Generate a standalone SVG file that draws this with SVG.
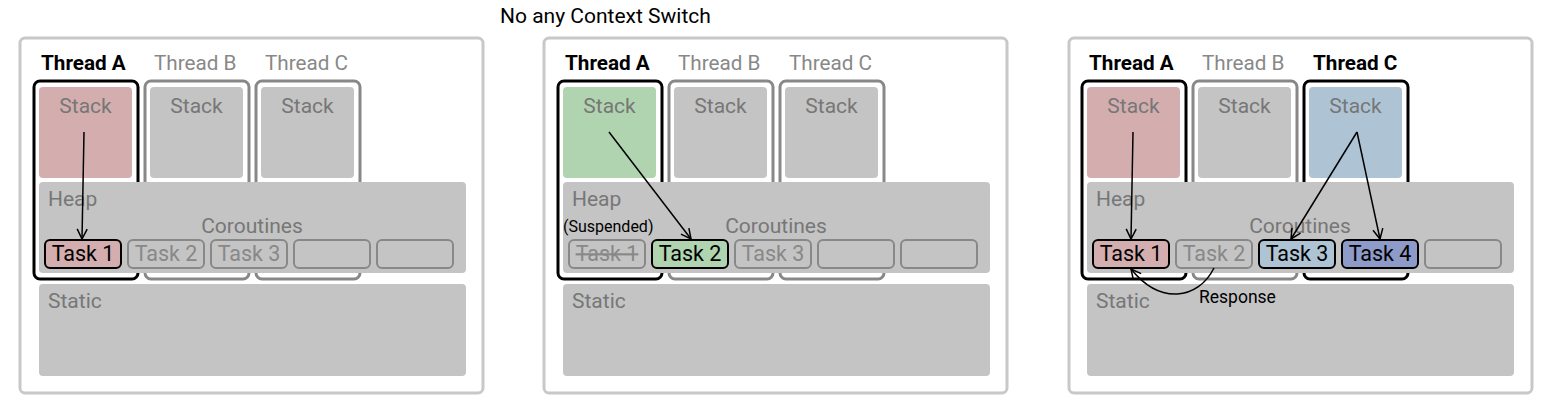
<svg xmlns="http://www.w3.org/2000/svg" width="1558" height="420" viewBox="0 0 1558 420">
<defs>
<marker id="ah" viewBox="0 0 12 12" refX="11" refY="6" markerWidth="12" markerHeight="12" markerUnits="userSpaceOnUse" orient="auto">
<path d="M1,1 L11,6 L1,11" fill="none" stroke="#000" stroke-width="1.5"/>
</marker>
<style>
text{font-family:Roboto,"Liberation Sans",sans-serif;}
.panel{fill:#fff;stroke:#c8c8c8;stroke-width:3;}
.frA{fill:none;stroke:#000;stroke-width:3;}
.frI{fill:none;stroke:#888;stroke-width:3;}
.stk{fill:#c4c4c4;}
.pink{fill:#d4aeae;}
.green{fill:#b0d4b0;}
.blue{fill:#aec4d4;}
.dblue{fill:#8e9ac8;}
.mem{fill:#c4c4c4;}
.lbl{font-size:21px;fill:#777;}
.thA{font-size:20.7px;font-weight:bold;fill:#000;}
.thI{font-size:20.7px;fill:#888;}
.tk{fill:none;stroke:#888;stroke-width:2;}
.tkA{stroke:#000;stroke-width:2;}
.tkt{font-size:21.5px;fill:#888;text-anchor:middle;}
.tktA{font-size:21.5px;fill:#000;text-anchor:middle;}
.edge{fill:none;stroke:#000;stroke-width:1.5;marker-end:url(#ah);}
</style>
</defs>
<text x="500" y="23" style="font-size:21px;fill:#000;">No any Context Switch</text>

<!-- Panel 1 -->
<g id="panel1">
<rect class="panel" x="20" y="38" width="463" height="355" rx="5"/>
<g id="p1-threadA"><rect class="frA" x="34" y="81" width="104" height="198" rx="6"/><rect class="pink" x="39" y="87" width="93" height="91" rx="4"/><text class="lbl" x="85.5" y="113" text-anchor="middle">Stack</text><text class="thA" x="41" y="70">Thread A</text></g>
<g id="p1-threadB"><rect class="frI" x="145" y="81" width="104" height="198" rx="6"/><rect class="stk" x="150" y="87" width="93" height="91" rx="4"/><text class="lbl" x="196.5" y="113" text-anchor="middle">Stack</text><text class="thI" x="154" y="70">Thread B</text></g>
<g id="p1-threadC"><rect class="frI" x="256" y="81" width="104" height="198" rx="6"/><rect class="stk" x="261" y="87" width="93" height="91" rx="4"/><text class="lbl" x="307.5" y="113" text-anchor="middle">Stack</text><text class="thI" x="265" y="70">Thread C</text></g>
<g id="p1-heap"><rect class="mem" x="39" y="182" width="427" height="91" rx="4"/><text class="lbl" x="48" y="206">Heap</text><text class="lbl" x="252" y="233" text-anchor="middle">Coroutines</text></g>
<g id="p1-static"><rect class="mem" x="39" y="284" width="427" height="92" rx="4"/><text class="lbl" x="48" y="308">Static</text></g>
<g id="p1-task1"><rect class="pink tkA" x="45" y="240" width="76" height="28" rx="5"/><text class="tktA" x="83" y="261">Task 1</text></g>
<g id="p1-task2"><rect class="tk" x="128" y="240" width="76" height="28" rx="5"/><text class="tkt" x="166" y="261">Task 2</text></g>
<g id="p1-task3"><rect class="tk" x="211" y="240" width="76" height="28" rx="5"/><text class="tkt" x="249" y="261">Task 3</text></g>
<g id="p1-task4"><rect class="tk" x="294" y="240" width="76" height="28" rx="5"/></g>
<g id="p1-task5"><rect class="tk" x="377" y="240" width="76" height="28" rx="5"/></g>
</g>

<!-- Panel 2 -->
<g id="panel2">
<rect class="panel" x="544" y="38" width="463" height="355" rx="5"/>
<g id="p2-threadA"><rect class="frA" x="558" y="81" width="104" height="198" rx="6"/><rect class="green" x="563" y="87" width="93" height="91" rx="4"/><text class="lbl" x="609.5" y="113" text-anchor="middle">Stack</text><text class="thA" x="565" y="70">Thread A</text></g>
<g id="p2-threadB"><rect class="frI" x="669" y="81" width="104" height="198" rx="6"/><rect class="stk" x="674" y="87" width="93" height="91" rx="4"/><text class="lbl" x="720.5" y="113" text-anchor="middle">Stack</text><text class="thI" x="678" y="70">Thread B</text></g>
<g id="p2-threadC"><rect class="frI" x="780" y="81" width="104" height="198" rx="6"/><rect class="stk" x="785" y="87" width="93" height="91" rx="4"/><text class="lbl" x="831.5" y="113" text-anchor="middle">Stack</text><text class="thI" x="789" y="70">Thread C</text></g>
<g id="p2-heap"><rect class="mem" x="563" y="182" width="427" height="91" rx="4"/><text class="lbl" x="572" y="206">Heap</text><text class="lbl" x="776" y="233" text-anchor="middle">Coroutines</text><text x="563" y="232" style="font-size:16px;fill:#000;">(Suspended)</text></g>
<g id="p2-static"><rect class="mem" x="563" y="284" width="427" height="92" rx="4"/><text class="lbl" x="572" y="308">Static</text></g>
<g id="p2-task1"><rect class="tk" x="569" y="240" width="76" height="28" rx="5"/><text class="tkt" x="607" y="261" text-decoration="line-through">Task 1</text></g>
<g id="p2-task2"><rect class="green tkA" x="652" y="240" width="76" height="28" rx="5"/><text class="tktA" x="690" y="261">Task 2</text></g>
<g id="p2-task3"><rect class="tk" x="735" y="240" width="76" height="28" rx="5"/><text class="tkt" x="773" y="261">Task 3</text></g>
<g id="p2-task4"><rect class="tk" x="818" y="240" width="76" height="28" rx="5"/></g>
<g id="p2-task5"><rect class="tk" x="901" y="240" width="76" height="28" rx="5"/></g>
</g>

<!-- Panel 3 -->
<g id="panel3">
<rect class="panel" x="1069" y="38" width="463" height="355" rx="5"/>
<g id="p3-threadA"><rect class="frA" x="1082" y="81" width="104" height="198" rx="6"/><rect class="pink" x="1087" y="87" width="93" height="91" rx="4"/><text class="lbl" x="1133.5" y="113" text-anchor="middle">Stack</text><text class="thA" x="1089" y="70">Thread A</text></g>
<g id="p3-threadB"><rect class="frI" x="1193" y="81" width="104" height="198" rx="6"/><rect class="stk" x="1198" y="87" width="93" height="91" rx="4"/><text class="lbl" x="1244.5" y="113" text-anchor="middle">Stack</text><text class="thI" x="1202" y="70">Thread B</text></g>
<g id="p3-threadC"><rect class="frA" x="1304" y="81" width="104" height="198" rx="6"/><rect class="blue" x="1309" y="87" width="93" height="91" rx="4"/><text class="lbl" x="1355.5" y="113" text-anchor="middle">Stack</text><text class="thA" x="1313" y="70">Thread C</text></g>
<g id="p3-heap"><rect class="mem" x="1087" y="182" width="427" height="91" rx="4"/><text class="lbl" x="1096" y="206">Heap</text><text class="lbl" x="1300" y="233" text-anchor="middle">Coroutines</text></g>
<g id="p3-static"><rect class="mem" x="1087" y="284" width="427" height="92" rx="4"/><text class="lbl" x="1096" y="308">Static</text></g>
<g id="p3-task1"><rect class="pink tkA" x="1093" y="240" width="76" height="28" rx="5"/><text class="tktA" x="1131" y="261">Task 1</text></g>
<g id="p3-task2"><rect class="tk" x="1176" y="240" width="76" height="28" rx="5"/><text class="tkt" x="1214" y="261">Task 2</text></g>
<g id="p3-task3"><rect class="blue tkA" x="1259" y="240" width="76" height="28" rx="5"/><text class="tktA" x="1297" y="261">Task 3</text></g>
<g id="p3-task4"><rect class="dblue tkA" x="1342" y="240" width="76" height="28" rx="5"/><text class="tktA" x="1380" y="261">Task 4</text></g>
<g id="p3-task5"><rect class="tk" x="1425" y="240" width="76" height="28" rx="5"/></g>
<text x="1199" y="303" style="font-size:17.5px;fill:#000;">Response</text>
</g>

<g id="connectors">
<path class="edge" d="M84,132 L82,239"/>
<path class="edge" d="M609,132 L691,239"/>
<path class="edge" d="M1133,132 L1131,239"/>
<path class="edge" d="M1357,132 L1291,239"/>
<path class="edge" d="M1357,132 L1380,239"/>
<path class="edge" d="M1214,268 C1198,300 1160,305 1131,269"/>
</g>
</svg>
